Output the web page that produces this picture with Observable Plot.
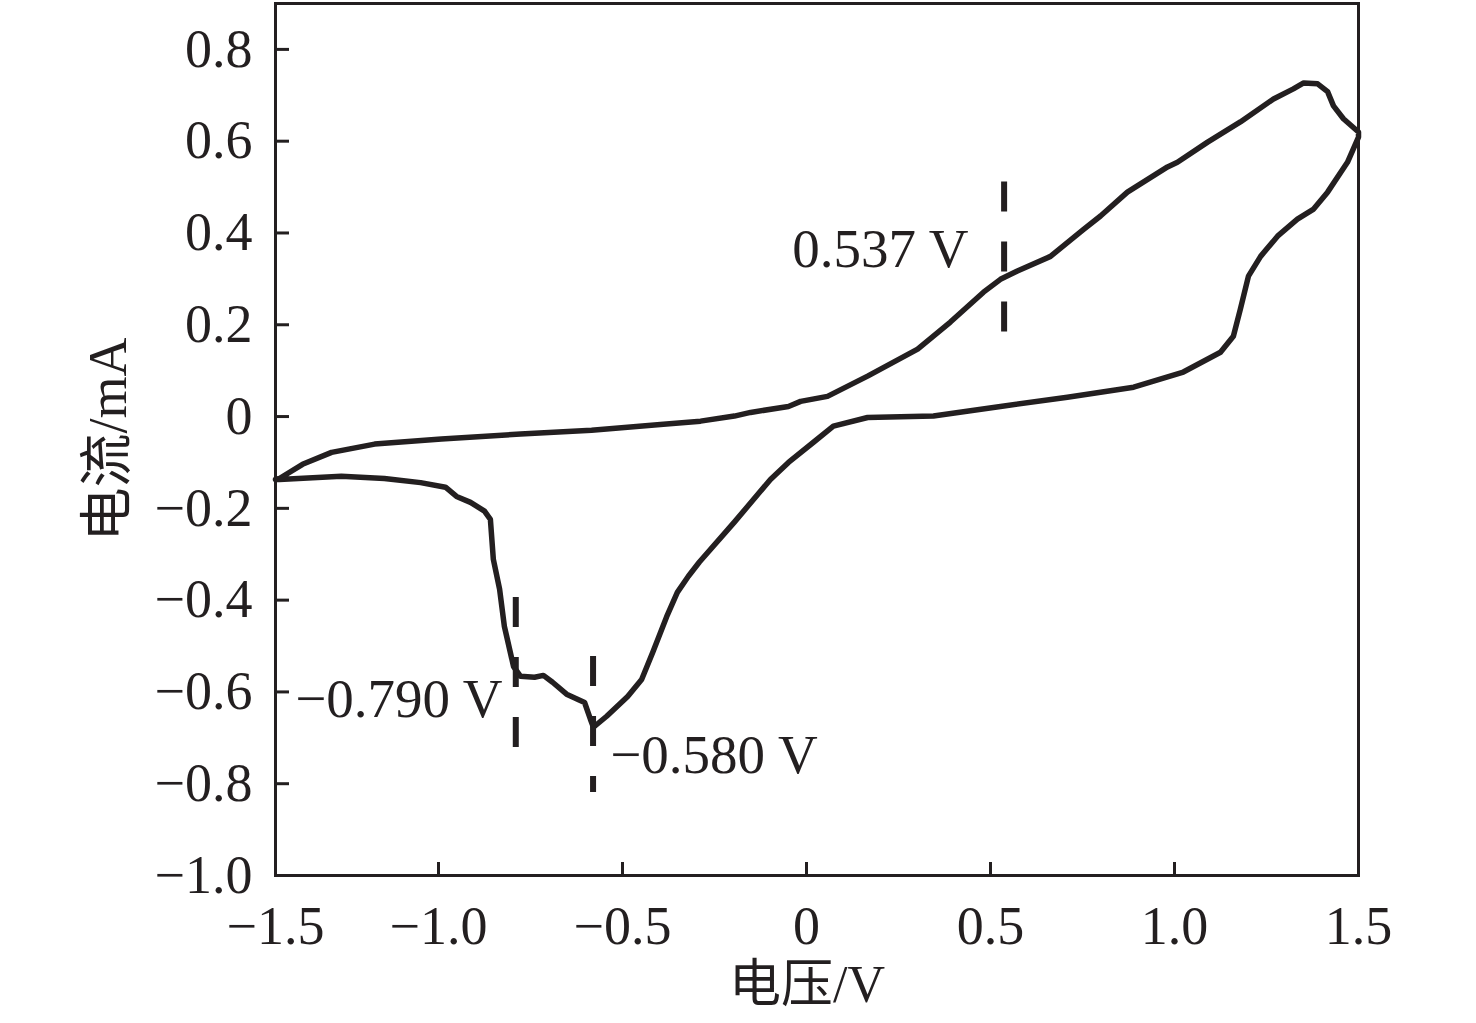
<!DOCTYPE html>
<html>
<head>
<meta charset="utf-8">
<script src="https://cdn.jsdelivr.net/npm/d3@7"></script>
<script src="https://cdn.jsdelivr.net/npm/@observablehq/plot@0.6"></script>
<style>
  html, body { margin: 0; padding: 0; background: #ffffff; }
  #chart { width: 1476px; height: 1023px; }
</style>
</head>
<body>
<div id="chart"></div>
<script>
// Cyclic voltammogram: potential (V) and current (mA), one closed loop
const cvVoltage = [
  -1.5, -1.488, -1.417, -1.328, -1.196, -0.992, -0.777, -0.584, -0.389, -0.288,
  -0.196, -0.152, -0.049, -0.016, 0.057, 0.166, 0.302, 0.391, 0.481, 0.527,
  0.573, 0.663, 0.753, 0.799, 0.872, 0.981, 1.008, 1.090, 1.179, 1.269,
  1.323, 1.351, 1.389, 1.416, 1.432, 1.459, 1.5,
  1.5, 1.470, 1.416, 1.378, 1.334, 1.280, 1.234, 1.201, 1.179, 1.160,
  1.125, 1.024, 0.889, 0.799, 0.709, 0.527, 0.345, 0.166, 0.073, 0.019,
  -0.049, -0.098, -0.196, -0.291, -0.321, -0.351, -0.380, -0.418, -0.448, -0.486,
  -0.543, -0.579, -0.587, -0.603, -0.652, -0.690, -0.715, -0.739, -0.777, -0.796,
  -0.821, -0.834, -0.851, -0.859, -0.875, -0.913, -0.951, -0.981, -1.055, -1.166,
  -1.298, -1.488, -1.5
];
const cvCurrent = [
  -0.137, -0.135, -0.104, -0.078, -0.060, -0.049, -0.038, -0.030, -0.017, -0.010,
  0.001, 0.009, 0.022, 0.033, 0.044, 0.088, 0.147, 0.206, 0.271, 0.299,
  0.317, 0.349, 0.408, 0.437, 0.489, 0.544, 0.554, 0.598, 0.642, 0.692,
  0.714, 0.727, 0.725, 0.708, 0.677, 0.649, 0.620,
  0.609, 0.554, 0.489, 0.452, 0.430, 0.393, 0.349, 0.306, 0.234, 0.175,
  0.140, 0.097, 0.064, 0.053, 0.042, 0.022, 0.001, -0.002, -0.021, -0.056,
  -0.100, -0.137, -0.230, -0.317, -0.348, -0.383, -0.436, -0.514, -0.573, -0.610,
  -0.653, -0.677, -0.660, -0.623, -0.605, -0.579, -0.564, -0.568, -0.566, -0.545,
  -0.457, -0.376, -0.311, -0.224, -0.206, -0.187, -0.174, -0.154, -0.144, -0.135,
  -0.130, -0.137, -0.137
];

// Peak markers (dashed guides) and their labels
const peakVoltage = [0.537, -0.790, -0.580];
const peakTop     = [0.511, -0.394, -0.523];
const peakBottom  = [0.182, -0.723, -0.819];
const peakLabels  = ["0.537 V", "\u22120.790 V", "\u22120.580 V"];
const labelVoltage = [0.440, -0.826, -0.533];
const labelCurrent = [0.365, -0.616, -0.739];

// Axes
const xTicks = [-1.5, -1.0, -0.5, 0, 0.5, 1.0, 1.5];
const xTickLabels = ["\u22121.5", "\u22121.0", "\u22120.5", "0", "0.5", "1.0", "1.5"];
const yTicks = [-1.0, -0.8, -0.6, -0.4, -0.2, 0, 0.2, 0.4, 0.6, 0.8];
const yTickLabels = ["\u22121.0", "\u22120.8", "\u22120.6", "\u22120.4", "\u22120.2", "0", "0.2", "0.4", "0.6", "0.8"];
const xLabel = "电压/V";
const yLabel = "电流/mA";

const cv = cvVoltage.map((v, i) => ({v, i: cvCurrent[i]}));
const peaks = peakVoltage.map((v, k) => ({
  v, top: peakTop[k], bottom: peakBottom[k],
  label: peakLabels[k], lx: labelVoltage[k], ly: labelCurrent[k]
}));

const ink = "#231f20";
const font = "'Liberation Serif', 'Noto Sans CJK SC', serif";

const chart = Plot.plot({
  width: 1476,
  height: 1023,
  marginLeft: 275,
  marginRight: 118,
  marginTop: 3,
  marginBottom: 148,
  style: {fontFamily: font, fontSize: "54px", color: ink, background: "#ffffff"},
  x: {type: "linear", domain: [-1.5, -1.0, 1.5], range: [275, 438, 1358]},
  y: {domain: [-1.0, 0.9]},
  marks: [
    Plot.axisX({
      ticks: xTicks,
      tickFormat: d => xTickLabels[xTicks.indexOf(d)],
      tickSize: -13, tickPadding: 43,
      stroke: ink, strokeWidth: 3, fill: ink,
      fontSize: 54, label: null
    }),
    Plot.axisY({
      ticks: yTicks,
      tickFormat: d => yTickLabels[yTicks.indexOf(d)],
      tickSize: -14, tickPadding: 37,
      stroke: ink, strokeWidth: 3, fill: ink,
      fontSize: 54, label: null
    }),
    Plot.frame({stroke: ink, strokeWidth: 3}),
    Plot.line(cv, {x: "v", y: "i", stroke: ink, strokeWidth: 5.5, strokeLinejoin: "round", strokeLinecap: "round"}),
    Plot.ruleX(peaks, {x: "v", y1: "top", y2: "bottom", stroke: ink, strokeWidth: 6, strokeDasharray: "30,30"}),
    Plot.text(peaks.slice(0, 2), {x: "lx", y: "ly", text: "label", textAnchor: "end", lineAnchor: "middle", fill: ink, fontSize: 55}),
    Plot.text(peaks.slice(2), {x: "lx", y: "ly", text: "label", textAnchor: "start", lineAnchor: "middle", fill: ink, fontSize: 55}),
    Plot.text([xLabel], {text: d => d, frameAnchor: "bottom", textAnchor: "middle", dx: -10, dy: 110, lineAnchor: "middle", fill: ink, fontSize: 52}),
    Plot.text([yLabel], {text: d => d, frameAnchor: "left", textAnchor: "middle", dx: -167, rotate: -90, lineAnchor: "middle", fill: ink, fontSize: 54})
  ]
});

document.getElementById("chart").appendChild(chart);
</script>
</body>
</html>
